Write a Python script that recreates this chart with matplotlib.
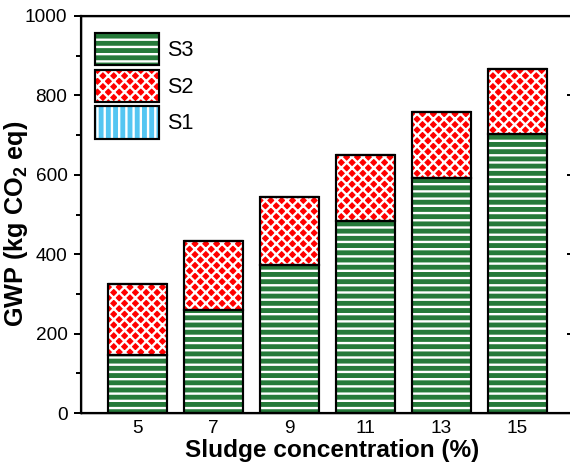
import numpy as np
import matplotlib
matplotlib.use("Agg")
import matplotlib.pyplot as plt
from matplotlib.patches import Patch
from matplotlib.legend_handler import HandlerTuple

# --- data
conc = [5, 7, 9, 11, 13, 15]
s3 = [146, 259, 372, 484, 592, 703]
s2 = [179, 174, 172, 167, 166, 163]
s1 = [0, 0, 0, 0, 0, 0]
xticks = [5, 7, 9, 11, 13, 15]
yticks = [0, 200, 400, 600, 800, 1000]

plt.rcParams['font.family'] = ['Liberation Sans', 'DejaVu Sans']
plt.rcParams['mathtext.fontset'] = 'custom'
plt.rcParams['mathtext.rm'] = 'Liberation Sans'
plt.rcParams['mathtext.bf'] = 'Liberation Sans:bold'
plt.rcParams['hatch.linewidth'] = 1.3

green = '#267a3a'
red = '#ff0000'
blue = '#55c6f2'
dpi = 130

fig = plt.figure(figsize=(570 / dpi, 465 / dpi), dpi=dpi)
ax = fig.add_axes([81 / 570, 1 - 413 / 465, 493 / 570, 397 / 465])

w = 1.56
x = np.array(conc)
bot2 = np.array(s3)
bot1 = bot2 + np.array(s2)


def hbar(vals, bottom, color, hatch):
    ax.bar(x, vals, w, bottom=bottom, color=color, edgecolor='white',
           linewidth=0, hatch=hatch, zorder=2)
    ax.bar(x, vals, w, bottom=bottom, fill=False, edgecolor='black',
           linewidth=1.2, zorder=3)


hbar(s3, 0, green, '---')
hbar(s2, bot2, red, 'xxxx')
hbar(s1, bot1, blue, '|||')

ax.set_xlim(3.5, 16.5)
ax.set_ylim(0, 1000)
ax.set_xticks(xticks)
ax.set_yticks(yticks)
ax.set_yticks(np.arange(100, 1000, 200), minor=True)
ax.tick_params(axis='x', length=0, labelsize=10.5, pad=4)
ax.tick_params(axis='y', which='major', direction='out', length=4, width=1.1,
               labelsize=10.5)
ax.tick_params(axis='y', which='minor', direction='out', length=2.5, width=1.1)
for sp in ax.spines.values():
    sp.set_linewidth(1.2)

# right side ticks point inward
ax2 = ax.twinx()
ax2.set_ylim(0, 1000)
ax2.set_yticks(yticks)
ax2.set_yticks(np.arange(100, 1000, 200), minor=True)
ax2.tick_params(axis='y', which='major', direction='in', length=4, width=1.1,
                labelright=False)
ax2.tick_params(axis='y', which='minor', direction='in', length=2, width=1.1)

ax.set_xlabel('Sludge concentration (%)', fontsize=13.5, fontweight='bold')
ax.xaxis.set_label_coords(0.509, -0.066)
ax.set_ylabel(r'GWP (kg CO$_\mathbf{2}$ eq)', fontsize=14, fontweight='bold')
ax.yaxis.set_label_coords(-0.1035, 0.476)

# legend: filled hatch + black outline overlaid
handles = []
for col, hat in [(green, '---'), (red, 'xxxx'), (blue, '|||')]:
    f = Patch(facecolor=col, edgecolor='white', linewidth=0, hatch=hat)
    o = Patch(fill=False, edgecolor='black', linewidth=1.2)
    handles.append((f, o))
ax2.legend(handles, ['S3', 'S2', 'S1'], handler_map={tuple: HandlerTuple(ndivide=1)},
           loc='upper left', bbox_to_anchor=((95 - 81) / 493, (413 - 33) / 397),
           frameon=False, borderpad=0, borderaxespad=0, fontsize=12,
           handlelength=2.95, handleheight=1.92, labelspacing=0.2,
           handletextpad=0.37)

fig.savefig('out.png', dpi=dpi)
